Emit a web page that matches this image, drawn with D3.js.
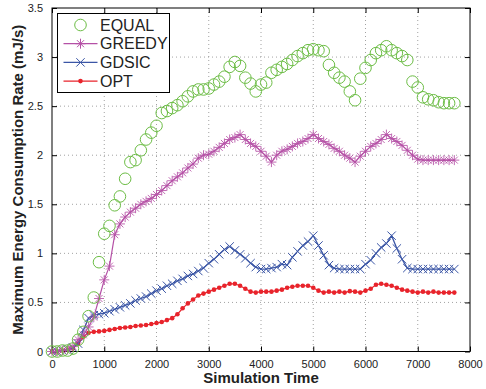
<!DOCTYPE html>
<html>
<head>
<meta charset="utf-8">
<script src="https://cdn.jsdelivr.net/npm/d3@7/dist/d3.min.js"></script>
<style>
  body { margin: 0; background: #fff; }
  #chart { width: 486px; height: 389px; }
  text { font-family: "Liberation Sans", Arial, Helvetica, sans-serif; }
</style>
</head>
<body>
<div id="chart"></div>
<script>
// simulation time: one sample every 100 units, 0..7700
const times = d3.range(0, 7800, 100);

const equal = [0.00, 0.00, 0.01, 0.01, 0.03, 0.12, 0.20, 0.36, 0.55, 0.91,
  1.20, 1.28, 1.49, 1.58, 1.76, 1.93, 1.95, 2.05, 2.16, 2.23,
  2.30, 2.43, 2.45, 2.48, 2.51, 2.55, 2.60, 2.65, 2.67, 2.67,
  2.68, 2.72, 2.75, 2.80, 2.90, 2.95, 2.91, 2.79, 2.73, 2.65,
  2.72, 2.74, 2.84, 2.87, 2.90, 2.93, 2.97, 3.01, 3.04, 3.07,
  3.08, 3.07, 3.06, 2.92, 2.84, 2.79, 2.75, 2.65, 2.56, 2.78,
  2.89, 2.97, 3.04, 3.07, 3.11, 3.07, 3.04, 3.01, 2.97, 2.75,
  2.69, 2.59, 2.57, 2.56, 2.54, 2.53, 2.53, 2.53];

const greedy = [0.00, 0.00, 0.01, 0.02, 0.05, 0.12, 0.17, 0.25, 0.35, 0.54,
  0.73, 0.87, 1.19, 1.30, 1.37, 1.42, 1.46, 1.50, 1.53, 1.56,
  1.60, 1.64, 1.69, 1.74, 1.78, 1.82, 1.87, 1.91, 1.97, 2.00,
  2.01, 2.04, 2.08, 2.12, 2.16, 2.18, 2.21, 2.16, 2.12, 2.09,
  2.04, 1.99, 1.93, 2.00, 2.04, 2.06, 2.09, 2.12, 2.14, 2.17,
  2.21, 2.17, 2.14, 2.11, 2.07, 2.04, 2.00, 1.97, 1.93, 1.99,
  2.04, 2.09, 2.12, 2.16, 2.21, 2.17, 2.14, 2.10, 2.05, 2.00,
  1.96, 1.95, 1.95, 1.95, 1.95, 1.95, 1.95, 1.95];

const gdsic = [0.00, 0.00, 0.01, 0.02, 0.04, 0.08, 0.22, 0.34, 0.37, 0.38,
  0.39, 0.41, 0.43, 0.45, 0.47, 0.49, 0.52, 0.54, 0.56, 0.59,
  0.62, 0.64, 0.67, 0.69, 0.72, 0.74, 0.77, 0.79, 0.82, 0.85,
  0.90, 0.94, 0.99, 1.04, 1.07, 1.03, 0.99, 0.95, 0.90, 0.86,
  0.84, 0.84, 0.85, 0.86, 0.89, 0.88, 0.96, 1.02, 1.08, 1.12,
  1.18, 1.08, 0.98, 0.88, 0.85, 0.84, 0.84, 0.84, 0.84, 0.84,
  0.89, 0.93, 1.00, 1.06, 1.10, 1.18, 1.05, 0.94, 0.85, 0.84,
  0.84, 0.84, 0.84, 0.84, 0.84, 0.84, 0.84, 0.84];

const opt = [0.00, 0.00, 0.01, 0.02, 0.03, 0.08, 0.15, 0.19, 0.20, 0.205,
  0.21, 0.22, 0.23, 0.24, 0.245, 0.25, 0.26, 0.265, 0.27, 0.28,
  0.29, 0.30, 0.32, 0.34, 0.38, 0.44, 0.49, 0.53, 0.57, 0.59,
  0.61, 0.63, 0.65, 0.67, 0.69, 0.69, 0.67, 0.64, 0.61, 0.60,
  0.61, 0.61, 0.61, 0.62, 0.63, 0.65, 0.66, 0.67, 0.67, 0.67,
  0.65, 0.62, 0.60, 0.61, 0.60, 0.61, 0.60, 0.615, 0.61, 0.60,
  0.62, 0.64, 0.68, 0.69, 0.68, 0.67, 0.65, 0.63, 0.62, 0.61,
  0.60, 0.61, 0.60, 0.61, 0.60, 0.60, 0.60, 0.60];

const xTicks = [0, 1000, 2000, 3000, 4000, 5000, 6000, 7000, 8000];
const yTicks = [0, 0.5, 1, 1.5, 2, 2.5, 3, 3.5];
const seriesNames = ['EQUAL', 'GREEDY', 'GDSIC', 'OPT'];

const margin = { top: 8, right: 16, bottom: 37.5, left: 52 };
const W = 486, H = 389;
const width = W - margin.left - margin.right;
const height = H - margin.top - margin.bottom;

const svg = d3.select('#chart').append('svg')
  .attr('width', W).attr('height', H);
const g = svg.append('g')
  .attr('transform', `translate(${margin.left},${margin.top})`);

const x = d3.scaleLinear().domain([0, 8000]).range([0, width]);
const y = d3.scaleLinear().domain([0, 3.5]).range([height, 0]);

// dotted grid
g.append('g').selectAll('line').data(xTicks.slice(1, -1)).join('line')
  .attr('x1', d => x(d)).attr('x2', d => x(d))
  .attr('y1', 0).attr('y2', height)
  .attr('stroke', '#8a8a8a').attr('stroke-width', 0.8)
  .attr('stroke-dasharray', '1,3');
g.append('g').selectAll('line').data(yTicks.slice(1, -1)).join('line')
  .attr('x1', 0).attr('x2', width)
  .attr('y1', d => y(d)).attr('y2', d => y(d))
  .attr('stroke', '#8a8a8a').attr('stroke-width', 0.8)
  .attr('stroke-dasharray', '1,3');

// axes, ticks pointing inward (matlab style)
const axStyle = sel => {
  sel.select('.domain').remove();
  sel.selectAll('.tick line').attr('stroke', '#000');
  sel.selectAll('.tick text').attr('fill', '#222')
    .style('font-size', '11px')
    .style('font-family', '"Liberation Sans", Arial, sans-serif');
};
g.append('g').attr('transform', `translate(0,${height})`)
  .call(d3.axisBottom(x).tickValues(xTicks).tickSizeInner(-5).tickPadding(9).tickFormat(d3.format('d')))
  .call(axStyle);
g.append('g')
  .call(d3.axisLeft(y).tickValues(yTicks).tickSizeInner(-5).tickPadding(9).tickFormat(d => d))
  .call(axStyle);
g.append('g')
  .call(d3.axisTop(x).tickValues(xTicks).tickSizeInner(-5).tickFormat(''))
  .call(axStyle);
g.append('g').attr('transform', `translate(${width},0)`)
  .call(d3.axisRight(y).tickValues(yTicks).tickSizeInner(-5).tickFormat(''))
  .call(axStyle);

g.append('rect').attr('width', width).attr('height', height)
  .attr('fill', 'none').attr('stroke', '#000').attr('stroke-width', 1);

// series
const colors = { EQUAL: '#6cbd45', GREEDY: '#b550a6', GDSIC: '#3b56a6', OPT: '#e8232b' };

const starPath = s => `M${-s},0L${s},0M0,${-s}L0,${s}M${-s*0.7},${-s*0.7}L${s*0.7},${s*0.7}M${-s*0.7},${s*0.7}L${s*0.7},${-s*0.7}`;
const crossPath = s => `M${-s},${-s}L${s},${s}M${-s},${s}L${s},${-s}`;

const line = d3.line().x((d, i) => x(times[i])).y(d => y(d));

// OPT
g.append('path').datum(opt)
  .attr('fill', 'none').attr('stroke', colors.OPT).attr('stroke-width', 1.2)
  .attr('d', line);
g.append('g').selectAll('circle').data(opt).join('circle')
  .attr('cx', (d, i) => x(times[i])).attr('cy', d => y(d))
  .attr('r', 2.3).attr('fill', colors.OPT);

// GDSIC
g.append('path').datum(gdsic)
  .attr('fill', 'none').attr('stroke', colors.GDSIC).attr('stroke-width', 1.3)
  .attr('d', line);
g.append('g').selectAll('path').data(gdsic).join('path')
  .attr('transform', (d, i) => `translate(${x(times[i])},${y(d)})`)
  .attr('d', crossPath(4.2))
  .attr('fill', 'none').attr('stroke', colors.GDSIC).attr('stroke-width', 1);

// GREEDY
g.append('path').datum(greedy)
  .attr('fill', 'none').attr('stroke', colors.GREEDY).attr('stroke-width', 1.2)
  .attr('d', line);
g.append('g').selectAll('path').data(greedy).join('path')
  .attr('transform', (d, i) => `translate(${x(times[i])},${y(d)})`)
  .attr('d', starPath(5))
  .attr('fill', 'none').attr('stroke', colors.GREEDY).attr('stroke-width', 1)
  .attr('stroke-opacity', 0.85);

// EQUAL (markers only)
g.append('g').selectAll('circle').data(equal).join('circle')
  .attr('cx', (d, i) => x(times[i])).attr('cy', d => y(d))
  .attr('r', 5.8).attr('fill', 'none')
  .attr('stroke', colors.EQUAL).attr('stroke-width', 1);

// legend
const leg = svg.append('g').attr('transform', 'translate(57.5,13.5)');
leg.append('rect').attr('width', 112).attr('height', 79)
  .attr('fill', '#fff').attr('stroke', '#000').attr('stroke-width', 1);
const rows = leg.selectAll('g.row').data(seriesNames).join('g')
  .attr('transform', (d, i) => `translate(0,${11.5 + i * 18.7})`);
rows.filter(d => d !== 'EQUAL').append('line')
  .attr('x1', 6).attr('x2', 40).attr('y1', 0).attr('y2', 0)
  .attr('stroke', d => colors[d]).attr('stroke-width', 1.2);
rows.filter(d => d === 'EQUAL').append('circle')
  .attr('cx', 23).attr('r', 5.8).attr('fill', 'none')
  .attr('stroke', colors.EQUAL).attr('stroke-width', 1);
rows.filter(d => d === 'GREEDY').append('path')
  .attr('transform', 'translate(23,0)').attr('d', starPath(5))
  .attr('stroke', colors.GREEDY).attr('fill', 'none');
rows.filter(d => d === 'GDSIC').append('path')
  .attr('transform', 'translate(23,0)').attr('d', crossPath(4.2))
  .attr('stroke', colors.GDSIC).attr('fill', 'none');
rows.filter(d => d === 'OPT').append('circle')
  .attr('cx', 23).attr('r', 2.3).attr('fill', colors.OPT);
rows.append('text')
  .attr('x', 42.5).attr('y', 5.7)
  .attr('fill', '#222').style('font-size', '16px')
  .text(d => d);

// axis labels
svg.append('text')
  .attr('x', margin.left + width / 2).attr('y', H - 6)
  .attr('text-anchor', 'middle')
  .style('font-size', '15px').style('font-weight', 'bold').attr('fill', '#222')
  .text('Simulation Time');
svg.append('text')
  .attr('transform', `translate(23,${margin.top + height / 2}) rotate(-90)`)
  .attr('text-anchor', 'middle')
  .style('font-size', '15px').style('font-weight', 'bold').attr('fill', '#222')
  .text('Maximum Energy Consumption Rate (mJ/s)');
</script>
</body>
</html>
